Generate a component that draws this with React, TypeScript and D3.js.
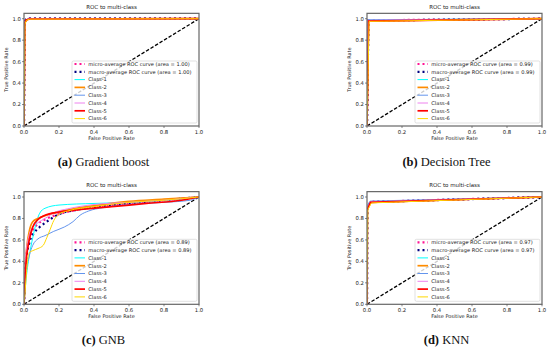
import React from 'react';
import * as d3 from 'd3';

type Pt = [number, number];

// tick labels and legend text
const ticks = [0, 0.2, 0.4, 0.6, 0.8, 1.0];
const classNames = ['Class-1', 'Class-2', 'Class-3', 'Class-4', 'Class-5', 'Class-6'];
const classColors = ['#00ffff', '#ff8c00', '#6495ed', '#ee82ee', '#ff0000', '#ffd700'];
const classWidths = [1, 1.7, 1, 1, 1.7, 1];

// (a) Gradient boost
const gbMicro: Pt[] = [[0, 0], [0.003, 0.97], [0.012, 0.995], [0.03, 1], [1, 1]];
const gbMacro: Pt[] = [[0, 0], [0.003, 0.965], [0.012, 0.993], [0.03, 1], [1, 1]];
const gbClasses: Pt[][] = [
  [[0, 0], [0.004, 0.96], [0.012, 0.99], [0.025, 0.998], [1, 1]],
  [[0, 0], [0.004, 0.95], [0.012, 0.985], [0.03, 0.997], [1, 1]],
  [[0, 0], [0.003, 0.965], [0.01, 0.99], [0.025, 1], [1, 1]],
  [[0, 0], [0.004, 0.96], [0.012, 0.99], [0.025, 0.998], [1, 1]],
  [[0, 0], [0.004, 0.955], [0.012, 0.988], [0.03, 0.997], [1, 1]],
  [[0, 0], [0.005, 0.95], [0.014, 0.985], [0.03, 0.996], [1, 1]],
];

// (b) Decision Tree
const dtMicro: Pt[] = [[0, 0], [0.008, 0.985], [1, 1]];
const dtMacro: Pt[] = [[0, 0], [0.008, 0.983], [1, 1]];
const dtClasses: Pt[][] = [
  [[0, 0], [0.006, 0.988], [1, 1]],
  [[0, 0], [0.008, 0.98], [1, 1]],
  [[0, 0], [0.005, 0.99], [1, 1]],
  [[0, 0], [0.007, 0.985], [1, 1]],
  [[0, 0], [0.009, 0.978], [1, 1]],
  [[0, 0], [0.012, 0.975], [1, 1]],
];

// (c) GNB
const gnbMicro: Pt[] = [[0, 0], [0.01, 0.4], [0.03, 0.6], [0.05, 0.69], [0.08, 0.75], [0.12, 0.79], [0.2, 0.84], [0.3, 0.88], [0.4, 0.905], [0.6, 0.94], [0.8, 0.97], [1, 1]];
const gnbMacro: Pt[] = [[0, 0], [0.01, 0.38], [0.03, 0.57], [0.06, 0.67], [0.09, 0.72], [0.13, 0.77], [0.2, 0.84], [0.3, 0.88], [0.45, 0.915], [0.6, 0.94], [0.8, 0.97], [1, 1]];
const gnbClasses: Pt[][] = [
  [[0, 0], [0.01, 0.2], [0.03, 0.45], [0.05, 0.62], [0.07, 0.76], [0.09, 0.85], [0.12, 0.895], [0.2, 0.925], [0.4, 0.94], [0.6, 0.95], [0.8, 0.97], [1, 1]],
  [[0, 0], [0.01, 0.42], [0.03, 0.68], [0.05, 0.77], [0.08, 0.8], [0.15, 0.84], [0.25, 0.88], [0.4, 0.92], [0.6, 0.96], [0.8, 0.98], [1, 1]],
  [[0, 0], [0.01, 0.25], [0.03, 0.45], [0.05, 0.55], [0.08, 0.61], [0.12, 0.64], [0.17, 0.68], [0.23, 0.72], [0.28, 0.77], [0.32, 0.83], [0.37, 0.87], [0.45, 0.9], [0.6, 0.93], [0.8, 0.95], [0.95, 0.97], [1, 1]],
  [[0, 0], [0.01, 0.45], [0.03, 0.65], [0.05, 0.72], [0.08, 0.76], [0.12, 0.8], [0.18, 0.86], [0.25, 0.89], [0.4, 0.93], [0.6, 0.95], [0.8, 0.97], [1, 1]],
  [[0, 0], [0.01, 0.35], [0.03, 0.6], [0.05, 0.72], [0.08, 0.79], [0.12, 0.83], [0.2, 0.86], [0.3, 0.88], [0.5, 0.91], [0.7, 0.94], [0.9, 0.97], [1, 1]],
  [[0, 0], [0.01, 0.2], [0.02, 0.4], [0.03, 0.48], [0.05, 0.5], [0.08, 0.52], [0.11, 0.55], [0.13, 0.62], [0.15, 0.7], [0.17, 0.78], [0.2, 0.84], [0.25, 0.87], [0.4, 0.91], [0.6, 0.95], [0.8, 0.97], [1, 1]],
];

// (d) KNN
const knnMicro: Pt[] = [[0, 0], [0.002, 0.9], [0.02, 0.955], [1, 1]];
const knnMacro: Pt[] = [[0, 0], [0.002, 0.9], [0.02, 0.953], [1, 1]];
const knnClasses: Pt[][] = [
  [[0, 0], [0.003, 0.9], [0.02, 0.955], [1, 1]],
  [[0, 0], [0.003, 0.89], [0.022, 0.95], [1, 1]],
  [[0, 0], [0.002, 0.92], [0.018, 0.962], [1, 1]],
  [[0, 0], [0.003, 0.9], [0.02, 0.955], [1, 1]],
  [[0, 0], [0.001, 0.88], [0.02, 0.95], [1, 1]],
  [[0, 0], [0.004, 0.88], [0.025, 0.945], [1, 1]],
];

const panels = [
  { id: 'a', name: 'Gradient boost', area: '1.00', micro: gbMicro, macro: gbMacro, classes: gbClasses, smooth: false, x: 24, y: 126 },
  { id: 'b', name: 'Decision Tree', area: '0.99', micro: dtMicro, macro: dtMacro, classes: dtClasses, smooth: false, x: 367, y: 126 },
  { id: 'c', name: 'GNB', area: '0.89', micro: gnbMicro, macro: gnbMacro, classes: gnbClasses, smooth: true, x: 24, y: 304.3 },
  { id: 'd', name: 'KNN', area: '0.97', micro: knnMicro, macro: knnMacro, classes: knnClasses, smooth: false, x: 367, y: 304.3 },
];

const W = 175;
const UNIT = 107.3; // px per 1.0 of TPR
const H = UNIT * 1.05;
const FONT = 'DejaVu Sans, sans-serif';

const Panel = ({ p }) => {
  const x = d3.scaleLinear().domain([0, 1]).range([0, W]);
  const y = d3.scaleLinear().domain([0, 1.05]).range([H, 0]);
  const line = d3.line<Pt>()
    .x(d => x(d[0]))
    .y(d => y(d[1]))
    .curve(p.smooth ? d3.curveMonotoneX : d3.curveLinear);

  const legendRows = [
    { label: `micro-average ROC curve (area = ${p.area})`, color: '#ff1493', dotted: true, w: 2.2 },
    { label: `macro-average ROC curve (area = ${p.area})`, color: '#000080', dotted: true, w: 2.2 },
    ...classNames.map((c, i) => ({ label: c, color: classColors[i], dotted: false, w: classWidths[i] })),
  ];
  const lgW = 125, lgH = 62, rowH = 7.8;
  const lgX = W - 2 - lgW, lgY = H - 3 - lgH;

  return (
    <g transform={`translate(${p.x},${p.y - H})`}>
      <defs>
        <clipPath id={`clip-${p.id}`}>
          <rect x={0} y={0} width={W} height={H} />
        </clipPath>
      </defs>
      <g clipPath={`url(#clip-${p.id})`}>
        <path d={line([[0, 0], [1, 1]]) || ''} fill="none" stroke="#000" strokeWidth={1.3} strokeDasharray="3.5 1.8" />
        <path d={line(p.micro) || ''} fill="none" stroke="#ff1493" strokeWidth={2.2} strokeDasharray="2 3" />
        <path d={line(p.macro) || ''} fill="none" stroke="#000080" strokeWidth={2.2} strokeDasharray="2 3" />
        {p.classes.map((c, i) => (
          <path key={i} d={line(c) || ''} fill="none" stroke={classColors[i]} strokeWidth={classWidths[i]} />
        ))}
      </g>
      <rect x={0} y={0} width={W} height={H} fill="none" stroke="#666" strokeWidth={1.2} />
      {ticks.map(t => (
        <g key={`x${t}`}>
          <line x1={x(t)} x2={x(t)} y1={H} y2={H + 2} stroke="#555" strokeWidth={0.7} />
          <text x={x(t)} y={H + 8} fontSize={5.3} fontFamily={FONT} textAnchor="middle" fill="#222">{t.toFixed(1)}</text>
          <line x1={-2} x2={0} y1={y(t)} y2={y(t)} stroke="#555" strokeWidth={0.7} />
          <text x={-3} y={y(t) + 1.9} fontSize={5.3} fontFamily={FONT} textAnchor="end" fill="#222">{t.toFixed(1)}</text>
        </g>
      ))}
      <text x={W / 2} y={-4.5} fontSize={5.5} fontFamily={FONT} textAnchor="middle" fill="#222">ROC to multi-class</text>
      <text x={W / 2} y={H + 14} fontSize={5} fontFamily={FONT} textAnchor="middle" fill="#222">False Positive Rate</text>
      <text transform={`translate(${-16.5},${H / 2}) rotate(-90)`} fontSize={5} fontFamily={FONT} textAnchor="middle" fill="#222">True Positive Rate</text>
      <g transform={`translate(${lgX},${lgY})`}>
        <rect x={0} y={0} width={lgW} height={lgH} rx={1.5} fill="#fff" fillOpacity={0.8} stroke="#ccc" strokeWidth={0.6} />
        {legendRows.map((r, i) => (
          <g key={i} transform={`translate(0,${3 + i * rowH})`}>
            <line x1={2.5} x2={13} y1={0} y2={0} stroke={r.color} strokeWidth={r.w} strokeDasharray={r.dotted ? '2 3' : undefined} />
            <text x={16.3} y={1.8} fontSize={5.1} fontFamily={FONT} fill="#222">{r.label}</text>
          </g>
        ))}
      </g>
      <text x={W / 2 - 8} y={H + 40} fontSize={12.5} fontFamily="Liberation Serif, serif" textAnchor="middle" fill="#111">
        <tspan fontWeight="bold">({p.id})</tspan> {p.name}
      </text>
    </g>
  );
};

export default function App() {
  return (
    <svg width={550} height={349} style={{ position: 'absolute', left: 0, top: 0, background: '#fff' }}>
      {panels.map(p => <Panel key={p.id} p={p} />)}
    </svg>
  );
}
